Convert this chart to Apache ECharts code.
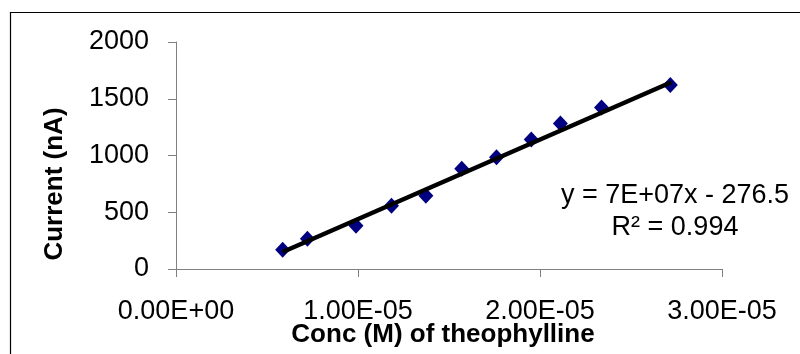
<!DOCTYPE html>
<html>
<head>
<meta charset="utf-8">
<script src="https://cdn.jsdelivr.net/npm/echarts@6/dist/echarts.min.js"></script>
<style>
  html, body { margin: 0; padding: 0; background: #fff; }
  #chart { width: 800px; height: 354px; }
</style>
</head>
<body>
<div id="chart"></div>
<script>
// theophylline concentration (M) and measured current (nA)
const concX = [0.586e-5, 0.722e-5, 0.989e-5, 1.184e-5, 1.373e-5, 1.570e-5, 1.761e-5, 1.952e-5, 2.112e-5, 2.338e-5, 2.716e-5];
const current = [170, 267, 381, 557, 645, 883, 985, 1140, 1283, 1422, 1622];

// linear trendline, end points
const trendX = [0.586e-5, 2.721e-5];
const trendY = [150, 1645];

const xTickLabels = ['0.00E+00', '1.00E-05', '2.00E-05', '3.00E-05'];
const equationLines = ['y = 7E+07x - 276.5', 'R² = 0.994'];

const font = '"Liberation Sans", Arial, sans-serif';

const chart = echarts.init(document.getElementById('chart'));

chart.setOption({
  animation: false,
  grid: { left: 176, top: 42, right: 78, bottom: 85 },
  xAxis: {
    type: 'value',
    min: 0,
    max: 3e-5,
    interval: 1e-5,
    splitLine: { show: false },
    axisLine: { lineStyle: { color: '#808080', width: 1 } },
    axisTick: { length: 8, lineStyle: { color: '#808080' } },
    axisLabel: {
      margin: 29,
      color: '#000',
      fontFamily: font,
      fontSize: 27,
      formatter: v => xTickLabels[Math.round(v / 1e-5)]
    }
  },
  yAxis: {
    type: 'value',
    min: 0,
    max: 2000,
    interval: 500,
    splitLine: { show: false },
    axisLine: { show: true, lineStyle: { color: '#808080', width: 1 } },
    axisTick: { show: true, length: 8, lineStyle: { color: '#808080' } },
    axisLabel: {
      margin: 27,
      color: '#000',
      fontFamily: font,
      fontSize: 27,
      formatter: v => String(v)
    }
  },
  series: [
    {
      type: 'scatter',
      symbol: 'diamond',
      symbolSize: [15, 16],
      itemStyle: { color: '#000080', opacity: 1 },
      data: concX.map((x, i) => [x, current[i]]),
      z: 2
    },
    {
      type: 'line',
      showSymbol: false,
      lineStyle: { color: '#000', width: 4.5 },
      data: trendX.map((x, i) => [x, trendY[i]]),
      z: 3
    }
  ],
  graphic: [
    {
      type: 'rect',
      shape: { x: 10.5, y: 12.5, width: 900, height: 500 },
      style: { fill: null, stroke: '#000', lineWidth: 1.2 },
      silent: true
    },
    {
      type: 'text',
      x: 55,
      y: 184,
      rotation: Math.PI / 2,
      style: {
        text: 'Current (nA)',
        fontFamily: font,
        fontSize: 26,
        fontWeight: 'bold',
        fill: '#000',
        textAlign: 'center',
        textVerticalAlign: 'middle'
      }
    },
    {
      type: 'text',
      x: 443,
      y: 335,
      style: {
        text: 'Conc (M) of theophylline',
        fontFamily: font,
        fontSize: 26,
        fontWeight: 'bold',
        fill: '#000',
        textAlign: 'center',
        textVerticalAlign: 'middle'
      }
    },
    {
      type: 'text',
      x: 675,
      y: 212,
      style: {
        text: equationLines.join('\n'),
        fontFamily: font,
        fontSize: 27,
        lineHeight: 32,
        fill: '#000',
        textAlign: 'center',
        textVerticalAlign: 'middle'
      }
    }
  ]
});
</script>
</body>
</html>
